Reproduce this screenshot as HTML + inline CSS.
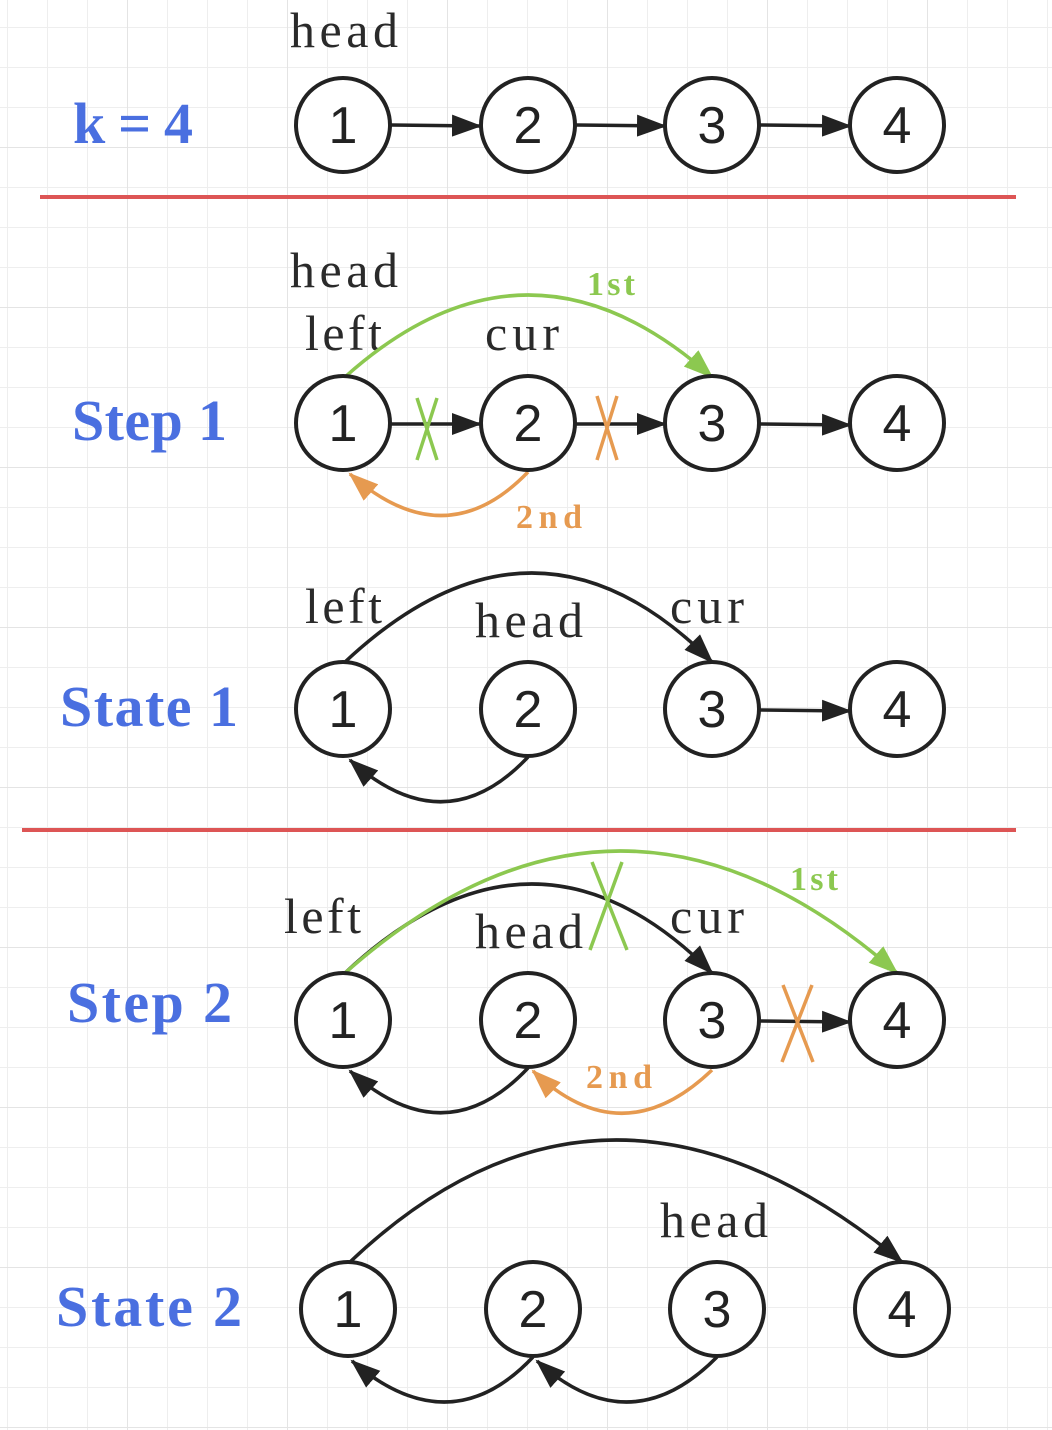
<!DOCTYPE html>
<html><head><meta charset="utf-8"><style>
html,body{margin:0;padding:0;background:#fff}
svg{display:block}
.n{font-family:"Liberation Sans",sans-serif;font-size:52px;fill:#222;text-anchor:middle}
.l{font-family:"Liberation Serif",serif;font-size:50px;fill:#2a2a2a}
.t{font-family:"Liberation Serif",serif;font-size:58px;font-weight:bold;fill:#4a6fe0}
.g{font-family:"Liberation Serif",serif;font-size:34px;font-weight:bold;fill:#8cc850}
.o{font-family:"Liberation Serif",serif;font-size:34px;font-weight:bold;fill:#e69a50}
</style></head><body>
<svg width="1052" height="1430" viewBox="0 0 1052 1430">
<defs>
<pattern id="grid" x="7" y="27" width="40" height="40" patternUnits="userSpaceOnUse"><path d="M0 0H40M0 0V40" stroke="#eeeeee" stroke-width="2" fill="none"/></pattern>
<pattern id="grid2" x="127" y="147" width="160" height="160" patternUnits="userSpaceOnUse"><path d="M0 0H160M0 0V160" stroke="#e4e4e4" stroke-width="2" fill="none"/></pattern>
<marker id="abk" markerWidth="30" markerHeight="22" refX="28" refY="11" orient="auto" markerUnits="userSpaceOnUse"><path d="M0 0L30 11L0 22z" fill="#222"/></marker>
<marker id="agr" markerWidth="30" markerHeight="22" refX="28" refY="11" orient="auto" markerUnits="userSpaceOnUse"><path d="M0 0L30 11L0 22z" fill="#8cc850"/></marker>
<marker id="aor" markerWidth="30" markerHeight="22" refX="28" refY="11" orient="auto" markerUnits="userSpaceOnUse"><path d="M0 0L30 11L0 22z" fill="#e69a50"/></marker>
</defs>
<rect width="1052" height="1430" fill="url(#grid)"/>
<rect width="1052" height="1430" fill="url(#grid2)"/>
<line x1="40" y1="197" x2="1016" y2="197" stroke="#dd5555" stroke-width="4"/>
<line x1="22" y1="830" x2="1016" y2="830" stroke="#dd5555" stroke-width="4"/>

<g>
<text class="t" x="73" y="143" textLength="120">k = 4</text>
<text class="l" x="290" y="47" textLength="108">head</text>
<g fill="none" stroke="#222" stroke-width="3.5">
<path d="M391 125L480 126" marker-end="url(#abk)"/><path d="M576 125L665 126" marker-end="url(#abk)"/><path d="M760 125L850 126" marker-end="url(#abk)"/>
</g>
</g>

<g>
<text class="t" x="72" y="440" textLength="155">Step 1</text>
<text class="l" x="290" y="287" textLength="108">head</text><text class="l" x="305" y="350" textLength="77">left</text><text class="l" x="485" y="350" textLength="74">cur</text>
<text class="g" x="587" y="295" textLength="48">1st</text><text class="o" x="516" y="528" textLength="66">2nd</text>
<g fill="none" stroke-width="3.5">
<path d="M391 424L480 424" stroke="#222" marker-end="url(#abk)"/><path d="M576 424L665 424" stroke="#222" marker-end="url(#abk)"/><path d="M760 424L850 425" stroke="#222" marker-end="url(#abk)"/>
<path d="M345 377Q528 213 712 377" stroke="#8cc850" marker-end="url(#agr)"/>
<path d="M528 472Q445 558 350 474" stroke="#e69a50" marker-end="url(#aor)"/>
<path d="M417 398L437 460M437 398L417 460" stroke="#8cc850"/>
<path d="M597 396L617 460M617 396L597 460" stroke="#e69a50"/>
</g>
</g>

<g>
<text class="t" x="60" y="726" textLength="178">State 1</text>
<text class="l" x="305" y="623" textLength="77">left</text><text class="l" x="475" y="637" textLength="108">head</text><text class="l" x="670" y="623" textLength="74">cur</text>
<g fill="none" stroke="#222" stroke-width="3.5">
<path d="M345 662Q535 484 712 662" marker-end="url(#abk)"/>
<path d="M528 757Q445 845 350 760" marker-end="url(#abk)"/>
<path d="M760 710L850 711" marker-end="url(#abk)"/>
</g>
</g>

<g>
<text class="t" x="67" y="1022" textLength="165">Step 2</text>
<text class="l" x="284" y="933" textLength="77">left</text><text class="l" x="475" y="948" textLength="108">head</text><text class="l" x="670" y="933" textLength="74">cur</text>
<text class="g" x="790" y="890" textLength="48">1st</text><text class="o" x="586" y="1088" textLength="66">2nd</text>
<g fill="none" stroke-width="3.5">
<path d="M345 973Q535 795 712 973" stroke="#222" marker-end="url(#abk)"/>
<path d="M345 973Q620 729 897 973" stroke="#8cc850" marker-end="url(#agr)"/>
<path d="M528 1068Q445 1156 350 1071" stroke="#222" marker-end="url(#abk)"/>
<path d="M712 1070Q622 1156 533 1071" stroke="#e69a50" marker-end="url(#aor)"/>
<path d="M760 1021L850 1022" stroke="#222" marker-end="url(#abk)"/>
<path d="M592 862L627 950M622 862L590 950" stroke="#8cc850"/>
<path d="M783 985L813 1062M812 985L782 1062" stroke="#e69a50"/>
</g>
</g>

<g>
<text class="t" x="56" y="1326" textLength="186">State 2</text>
<text class="l" x="660" y="1237" textLength="108">head</text>
<g fill="none" stroke="#222" stroke-width="3.5">
<path d="M350 1262Q607 1018 902 1262" marker-end="url(#abk)"/>
<path d="M533 1357Q450 1445 352 1361" marker-end="url(#abk)"/>
<path d="M717 1357Q630 1445 537 1361" marker-end="url(#abk)"/>
</g>
</g>

<g fill="#fff" stroke="#222" stroke-width="4">
<circle cx="343" cy="125" r="47"/><circle cx="528" cy="125" r="47"/><circle cx="712" cy="125" r="47"/><circle cx="897" cy="125" r="47"/>
<circle cx="343" cy="423" r="47"/><circle cx="528" cy="423" r="47"/><circle cx="712" cy="423" r="47"/><circle cx="897" cy="423" r="47"/>
<circle cx="343" cy="709" r="47"/><circle cx="528" cy="709" r="47"/><circle cx="712" cy="709" r="47"/><circle cx="897" cy="709" r="47"/>
<circle cx="343" cy="1020" r="47"/><circle cx="528" cy="1020" r="47"/><circle cx="712" cy="1020" r="47"/><circle cx="897" cy="1020" r="47"/>
<circle cx="348" cy="1309" r="47"/><circle cx="533" cy="1309" r="47"/><circle cx="717" cy="1309" r="47"/><circle cx="902" cy="1309" r="47"/>
</g>
<g>
<text class="n" x="343" y="143">1</text><text class="n" x="528" y="143">2</text><text class="n" x="712" y="143">3</text><text class="n" x="897" y="143">4</text>
<text class="n" x="343" y="441">1</text><text class="n" x="528" y="441">2</text><text class="n" x="712" y="441">3</text><text class="n" x="897" y="441">4</text>
<text class="n" x="343" y="727">1</text><text class="n" x="528" y="727">2</text><text class="n" x="712" y="727">3</text><text class="n" x="897" y="727">4</text>
<text class="n" x="343" y="1038">1</text><text class="n" x="528" y="1038">2</text><text class="n" x="712" y="1038">3</text><text class="n" x="897" y="1038">4</text>
<text class="n" x="348" y="1327">1</text><text class="n" x="533" y="1327">2</text><text class="n" x="717" y="1327">3</text><text class="n" x="902" y="1327">4</text>
</g>
</svg>
</body></html>
